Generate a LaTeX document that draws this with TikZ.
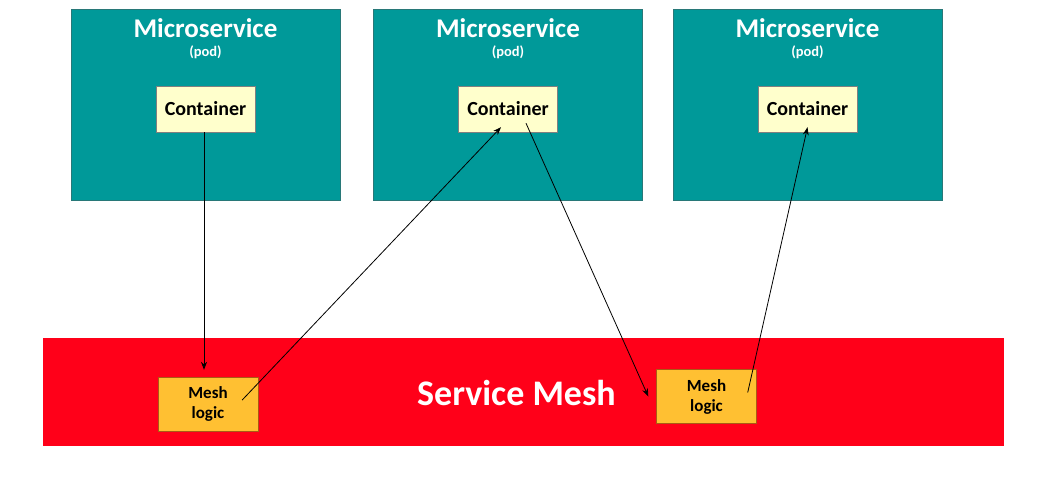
\documentclass[tikz,border=0pt]{standalone}
\usepackage{fontspec}
\setmainfont{Carlito}
\usepackage{tikz}
\usetikzlibrary{positioning,arrows.meta,calc}
\usepackage{xcolor}

\definecolor{podteal}{RGB}{0,153,153}
\definecolor{podedge}{RGB}{40,120,120}
\definecolor{boxcream}{RGB}{255,255,204}
\definecolor{meshred}{RGB}{255,0,25}
\definecolor{logicamber}{RGB}{255,192,50}
\definecolor{logicedge}{RGB}{170,90,20}

\tikzset{
  podbox/.style={draw=podedge, fill=podteal, minimum width=269pt, minimum height=191pt, inner sep=0pt},
  ctbox/.style={draw=gray, fill=boxcream, minimum width=99pt, minimum height=46pt, inner sep=0pt,
    font=\fontsize{20}{22}\selectfont\bfseries},
  logicbox/.style={draw=logicedge, fill=logicamber, minimum width=100pt, minimum height=54pt, inner sep=0pt,
    align=center, font=\fontsize{17}{20}\selectfont\bfseries},
  flow/.style={->, line width=0.8pt, black}
}

\begin{document}
\begin{tikzpicture}[>={Stealth[length=8pt,width=6pt]}, x=1pt, y=-1pt]

\useasboundingbox (0,0) rectangle (1048,488);

% Define vertical positions
\def\podmid{104.5}
\def\ctmid{109}
\def\meshmid{392}

% Microservices (pods) with their containers
\foreach \i/\x in {1/205.5, 2/508, 3/807.5} {
    \node[podbox] (pod\i) at (\x, \podmid) {};
    \node[anchor=base, white, font=\fontsize{27}{30}\selectfont\bfseries] (title\i) at (\x, 37) {Microservice};
    \node[anchor=base, white, font=\fontsize{14.5}{16}\selectfont\bfseries] (podtag\i) at (\x, 56) {(pod)};
    \node[ctbox] (ct\i) at (\x, \ctmid) {Container};
}

% Service mesh band
\node[fill=meshred, minimum width=961pt, minimum height=108pt, inner sep=0pt] (mesh) at (523.5, \meshmid) {};
\node[white, font=\fontsize{36}{40}\selectfont\bfseries] (meshlabel) at (516.5, 393) {Service Mesh};

% Mesh logic boxes
\node[logicbox] (ml1) at (208, 404) {Mesh\\logic};
\node[logicbox] (ml2) at (706.5, 396.5) {Mesh\\logic};

% Traffic between containers and mesh logic
\draw[flow] ([xshift=-1.5pt]ct1.south) -- ([xshift=-4pt,yshift=7pt]ml1.north);
\draw[flow] ([xshift=-16pt,yshift=4pt]ml1.east) -- ([xshift=-7pt,yshift=5pt]ct2.south);
\draw[flow] ([xshift=18pt,yshift=9pt]ct2.south) -- ([xshift=-8pt]ml2.west);
\draw[flow] ([xshift=-9pt,yshift=4pt]ml2.east) -- ([yshift=5pt]ct3.south);

\end{tikzpicture}
\end{document}
